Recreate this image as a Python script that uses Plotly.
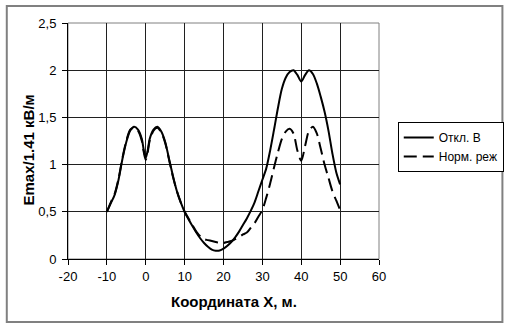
import plotly.graph_objects as go

x_vals = [-10, -9, -8, -7, -6, -5, -4, -3, -2, -1, -0.5,
          0, 0.5, 1, 2, 3, 4, 5, 6, 7, 8, 9,
          10, 11, 12, 13, 14, 15, 16, 17, 18, 19,
          20, 21, 22, 23, 24, 25, 26, 27, 28, 29,
          30, 31, 32, 33, 34, 35, 36, 37, 38, 39,
          40, 41, 42, 43, 44, 45, 46, 47, 48, 49,
          50]

otkl_b = [0.50, 0.59, 0.68, 0.84, 1.06, 1.24, 1.36, 1.40, 1.37, 1.27, 1.15,
          1.07, 1.15, 1.27, 1.37, 1.40, 1.35, 1.24, 1.06, 0.88, 0.72, 0.60,
          0.50, 0.42, 0.35, 0.28, 0.22, 0.17, 0.13, 0.10, 0.088, 0.09,
          0.11, 0.14, 0.18, 0.23, 0.29, 0.36, 0.43, 0.51, 0.60, 0.72,
          0.84, 0.96, 1.15, 1.37, 1.60, 1.80, 1.92, 1.98, 2.00, 1.95,
          1.88, 1.95, 2.00, 1.96, 1.86, 1.72, 1.56, 1.36, 1.12, 0.92,
          0.79]

norm_rezh = [0.50, 0.60, 0.69, 0.85, 1.07, 1.25, 1.37, 1.39, 1.36, 1.25, 1.13,
             1.05, 1.13, 1.25, 1.36, 1.39, 1.34, 1.23, 1.05, 0.87, 0.72, 0.60,
             0.50, 0.43, 0.36, 0.29, 0.24, 0.21, 0.20, 0.19, 0.18, 0.17,
             0.17, 0.18, 0.19, 0.21, 0.23, 0.26, 0.28, 0.33, 0.38, 0.45,
             0.52, 0.65, 0.80, 0.97, 1.13, 1.27, 1.35, 1.38, 1.33, 1.15,
             1.04, 1.20, 1.36, 1.40, 1.33, 1.17, 1.00, 0.86, 0.72, 0.62,
             0.52]

series_names = ["Откл. В", "Норм. реж"]
x_ticks = [-20, -10, 0, 10, 20, 30, 40, 50, 60]
x_tick_labels = ["-20", "-10", "0", "10", "20", "30", "40", "50", "60"]
y_ticks = [0, 0.5, 1, 1.5, 2, 2.5]
y_tick_labels = ["0", "0,5", "1", "1,5", "2", "2,5"]
x_title = "Координата X, м."
y_title = "Emax/1.41 кВ/м"

FONT = "Liberation Sans, Arial, sans-serif"

fig = go.Figure()
fig.add_trace(go.Scatter(
    x=x_vals, y=otkl_b, name=series_names[0], mode="lines",
    line=dict(color="black", width=2, shape="spline", smoothing=0.8),
))
fig.add_trace(go.Scatter(
    x=x_vals, y=norm_rezh, name=series_names[1], mode="lines",
    line=dict(color="black", width=2, shape="spline", smoothing=0.8,
              dash="13px,6px"),
))

# plot area in pixels: x 68..383, y 23..259
L, R, T, B = 68, 383, 23, 259
W, H = 516, 329
pw, ph = R - L, B - T


def px2x(px):
    return (px - L) / pw


def py2y(py):
    return (B - py) / ph


fig.update_layout(
    width=W, height=H,
    margin=dict(l=L, r=W - R, t=T, b=H - B, pad=0),
    paper_bgcolor="white", plot_bgcolor="white",
    font=dict(family=FONT, size=13, color="black"),
    showlegend=True,
    legend=dict(
        x=px2x(402), y=py2y(122), xanchor="left", yanchor="top",
        bordercolor="black", borderwidth=1, bgcolor="white",
        font=dict(family=FONT, size=12, color="black"),
        tracegroupgap=0, itemwidth=30,
    ),
    xaxis=dict(
        range=[-20, 60], tickvals=x_ticks, ticktext=x_tick_labels,
        ticks="outside", ticklen=5,
        tickcolor="black", showgrid=True, gridcolor="#202020", gridwidth=1,
        showline=True, linecolor="black", linewidth=1, zeroline=False,
        tickfont=dict(family=FONT, size=13),
    ),
    yaxis=dict(
        range=[0, 2.5], tickvals=y_ticks, ticktext=y_tick_labels,
        ticks="outside", ticklen=5, tickcolor="black", showgrid=True,
        gridcolor="#202020", gridwidth=1, showline=True, linecolor="black",
        linewidth=1, zeroline=False, tickfont=dict(family=FONT, size=13),
        ticklabelstandoff=3,
    ),
    annotations=[
        dict(text=f"<b>{x_title}</b>", xref="paper", yref="paper",
             x=px2x(236), y=py2y(301), xanchor="center", yanchor="middle",
             showarrow=False, font=dict(family=FONT, size=15)),
        dict(text=f"<b>{y_title}</b>", xref="paper", yref="paper",
             x=px2x(27), y=py2y(150), xanchor="center", yanchor="middle",
             textangle=-90, showarrow=False, font=dict(family=FONT, size=15)),
    ],
    shapes=[
        dict(type="rect", xref="paper", yref="paper",
             x0=px2x(6), x1=px2x(508), y0=py2y(322), y1=py2y(6),
             line=dict(color="#808080", width=2), fillcolor="rgba(0,0,0,0)",
             layer="below"),
        dict(type="rect", xref="paper", yref="paper", x0=0, x1=1, y0=0, y1=1,
             line=dict(color="#808080", width=1), fillcolor="rgba(0,0,0,0)",
             layer="below"),
    ],
)

fig.write_html("out.html")
